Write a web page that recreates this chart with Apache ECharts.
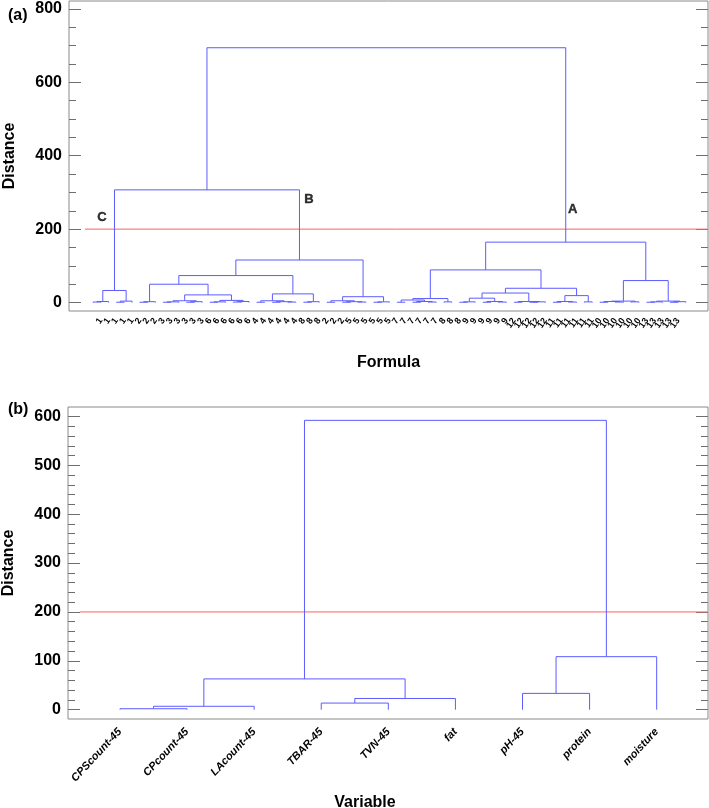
<!DOCTYPE html>
<html><head><meta charset="utf-8">
<script src="https://cdn.jsdelivr.net/npm/echarts@6/dist/echarts.min.js"></script>
<style>html,body{margin:0;padding:0;background:#fff}#c{width:709px;height:808px}</style>
</head><body><div id="c"></div>
<script>
// ---------- (a) Formula dendrogram ----------
const formulaLabels = ['1','1','1','1','1','1','2','2','2','3','3','3','3','3','3','6','6','6','6','6','6',
  '4','4','4','4','4','4','8','8','8','2','2','2','5','5','5','5','5','5','7','7','7','7','7','7',
  '8','8','8','9','9','9','9','9','9','12','12','12','12','12','11','11','11','11','11','11',
  '10','10','10','10','10','10','13','13','13','13','13','13'];
// tree nodes: leaf index, or [left, right, distance]
const clusterC = [[[0,1,1.5],2,3],[[3,4,1],5,4],33];
const sub2a = [[6,7,1],8,2.5];
const sub3 = [[[9,10,1],11,2],[[12,13,1],14,2.5],5];
const sub6 = [[[15,16,1],17,2],[[18,19,1.5],20,3],6];
const sub4 = [[21,22,1],[[23,24,1],[25,26,1.5],2.5],5];
const sub8a = [[27,28,1],29,2.5];
const sub25 = [[30,31,1],[[32,33,1],[34,35,1.5],2.5],5];
const sub5 = [[36,37,1],38,2];
const sub7 = [[[39,40,1],[[41,42,1],[43,44,1.5],3],7],[45,46,2],11];
const sub89 = [[[[47,48,1],49,2],[[50,51,1],[52,53,1.5],3],12],[[54,55,1],[[56,57,1],58,2],3],26];
const sub11 = [[[59,60,1],[61,62,1.5],3],[63,64,2],19];
const sub10 = [[[65,66,1],[67,68,1.5],3],[69,70,2],4];
const sub13 = [[[71,72,1],73,2],[[74,75,1],76,2.5],4];
const clusterBLeft = [[sub2a,[sub3,sub6,21],50],[sub4,sub8a,23.7],73.6];
const clusterB = [clusterBLeft,[sub25,sub5,16],116];
const clusterA = [[sub7,[sub89,sub11,39],89],[sub10,sub13,60],164.6];
const formulaTree = [[clusterC,clusterB,307],clusterA,694];
const annoText = ['C','B','A'];
const annoX = [1.15, 27.7, 61.5];
const annoY = [232.7, 281.8, 254.5];
const topYMajor = [0,200,400,600,800];
const topYMinor = [0,50,100,150,200,250,300,350,400,450,500,550,600,650,700,750,800];

// ---------- (b) Variable dendrogram ----------
const variableLabels = ['CPScount-45','CPcount-45','LAcount-45','TBAR-45','TVN-45','fat','pH-45','protein','moisture'];
const variableTree = [[[[0,1,2],2,7],[[3,4,13.6],5,23],63],[[6,7,33.4],8,108.5],592];
const botYMajor = [0,100,200,300,400,500,600];
const botYMinor = [0,20,40,60,80,100,120,140,160,180,200,220,240,260,280,300,320,340,360,380,400,420,440,460,480,500,520,540,560,580,600];
const cutDistance = 200;
const topCutX = [-1.03, 78.85];
const botCutX = [-0.6, 8.765];

function layout(node, segs){
  if (typeof node === 'number') return {x: node, h: 0};
  const L = layout(node[0], segs), R = layout(node[1], segs);
  segs.push({coords: [[L.x, L.h],[L.x, node[2]],[R.x, node[2]],[R.x, R.h]]});
  return {x: (L.x + R.x) / 2, h: node[2]};
}
const segsTop = []; layout(formulaTree, segsTop);
const segsBot = []; layout(variableTree, segsBot);

const FONT = '"Liberation Sans", Arial, sans-serif';
const tickColor = '#6e6e6e';
function yAx(grid, pos, len, vals, showLabel, min, max, name){
  const a = {
    type:'value', gridIndex:grid, position:pos, min:min, max:max, offset:0,
    axisLine:{show:false, onZero:false}, splitLine:{show:false},
    axisTick:{show:true, inside:true, length:len, customValues:vals, lineStyle:{color:tickColor, width:1}},
    axisLabel:{show:showLabel, customValues:vals, fontFamily:FONT, fontWeight:'bold', fontSize:16, color:'#000', margin:7}
  };
  if (name){
    a.name = name; a.nameLocation = 'middle'; a.nameGap = 51; a.nameMoveOverlap = false;
    a.nameTextStyle = {fontFamily:FONT, fontWeight:'bold', fontSize:16, color:'#000'};
  }
  return a;
}
function hiddenX(grid, min, max){
  return {type:'value', gridIndex:grid, min:min, max:max, show:false, axisLine:{onZero:false}};
}
const topMin = -22.9, topMax = 821.3, botMin = -19, botMax = 619.3;
const topXMin = -3.08, topXMax = 78.85, botXMin = -0.775, botXMax = 8.765;
const topIdx = formulaLabels.map((_, i) => i);
const botIdx = variableLabels.map((_, i) => i);
const gTop = {left:69, right:1, top:1, height:310, outerBoundsMode:'none', containLabel:false};
const gBot = {left:68, right:1, top:407, height:312, outerBoundsMode:'none', containLabel:false};

const chart = echarts.init(document.getElementById('c'), null, {renderer:'canvas'});
chart.setOption({
  animation:false,
  backgroundColor:'#fff',
  title:[
    {text:'(a)', left:3, top:3, textStyle:{fontFamily:FONT, fontSize:16, fontWeight:'bold', color:'#000'}},
    {text:'(b)', left:3, top:397, textStyle:{fontFamily:FONT, fontSize:16, fontWeight:'bold', color:'#000'}}
  ],
  grid:[
    Object.assign({show:true, borderColor:'#8a8a8a', borderWidth:1, backgroundColor:'transparent'}, gTop),
    Object.assign({show:false}, gTop),
    Object.assign({show:true, borderColor:'#8a8a8a', borderWidth:1, backgroundColor:'transparent'}, gBot),
    Object.assign({show:false}, gBot)
  ],
  xAxis:[
    {type:'value', gridIndex:0, min:topXMin, max:topXMax,
     axisLine:{show:false, onZero:false}, axisTick:{show:false}, splitLine:{show:false},
     axisLabel:{customValues:topIdx, formatter:v => formulaLabels[Math.round(v)], rotate:55,
       fontFamily:FONT, fontSize:9, fontWeight:'bold', color:'#000', margin:8},
     name:'Formula', nameLocation:'middle', nameGap:44, nameMoveOverlap:false,
     nameTextStyle:{fontFamily:FONT, fontWeight:'bold', fontSize:16, color:'#000'}},
    hiddenX(1, topXMin, topXMax),
    {type:'value', gridIndex:2, min:botXMin, max:botXMax,
     axisLine:{show:false, onZero:false}, axisTick:{show:false}, splitLine:{show:false},
     axisLabel:{customValues:botIdx, formatter:v => variableLabels[Math.round(v)], rotate:47,
       fontFamily:FONT, fontSize:11, fontWeight:'bold', fontStyle:'italic', color:'#000', margin:11},
     name:'Variable', nameLocation:'middle', nameGap:76, nameMoveOverlap:false,
     nameTextStyle:{fontFamily:FONT, fontWeight:'bold', fontSize:16, color:'#000', padding:[0,46,0,0]}},
    hiddenX(3, botXMin, botXMax)
  ],
  yAxis:[
    yAx(0,'left',12,topYMajor,true,topMin,topMax,'Distance'),
    yAx(0,'right',12,topYMajor,false,topMin,topMax),
    yAx(1,'left',7,topYMinor,false,topMin,topMax),
    yAx(1,'right',7,topYMinor,false,topMin,topMax),
    yAx(2,'left',12,botYMajor,true,botMin,botMax,'Distance'),
    yAx(2,'right',12,botYMajor,false,botMin,botMax),
    yAx(3,'left',7,botYMinor,false,botMin,botMax),
    yAx(3,'right',7,botYMinor,false,botMin,botMax)
  ],
  series:[
    {type:'lines', coordinateSystem:'cartesian2d', xAxisIndex:0, yAxisIndex:0, polyline:true, silent:true,
     lineStyle:{color:'#5c5cff', width:1, opacity:1}, data:segsTop, z:3},
    {type:'scatter', xAxisIndex:0, yAxisIndex:0, symbolSize:1, silent:true,
     itemStyle:{color:'rgba(255,255,255,0)'},
     label:{show:true, position:'inside', formatter:p => p.name, fontFamily:FONT, fontSize:13, fontWeight:'bold',
       color:'#000', textBorderColor:'#000', textBorderWidth:0.4},
     data: annoText.map((t, i) => ({name:t, value:[annoX[i], annoY[i]]})), z:4},
    {type:'line', xAxisIndex:0, yAxisIndex:0, symbol:'none', silent:true, z:2,
     lineStyle:{color:'#ff6060', width:1}, data: topCutX.map(x => [x, cutDistance])},
    {type:'lines', coordinateSystem:'cartesian2d', xAxisIndex:2, yAxisIndex:4, polyline:true, silent:true,
     lineStyle:{color:'#5c5cff', width:1, opacity:1}, data:segsBot, z:3},
    {type:'line', xAxisIndex:2, yAxisIndex:4, symbol:'none', silent:true, z:2,
     lineStyle:{color:'#ff6060', width:1}, data: botCutX.map(x => [x, cutDistance])}
  ]
});
</script></body></html>
